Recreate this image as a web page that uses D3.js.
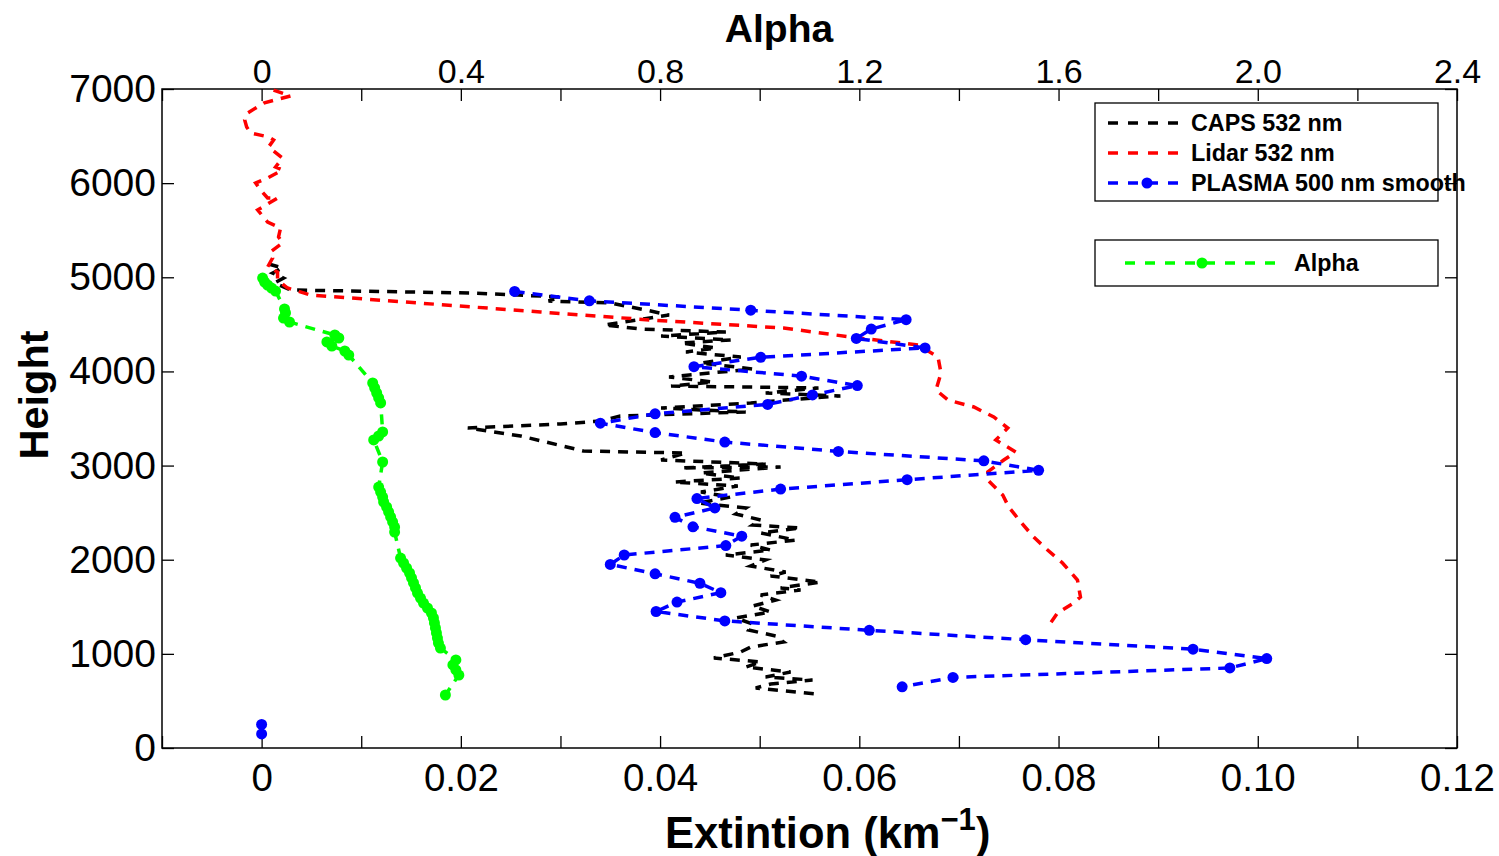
<!DOCTYPE html>
<html>
<head>
<meta charset="utf-8">
<script src="https://cdn.jsdelivr.net/npm/d3@7"></script>
<style>
  body { margin: 0; background: #fff; }
  text { font-family: "Liberation Sans", Arial, sans-serif; }
</style>
</head>
<body>
<div id="chart"></div>
<script>
// values (extinction in km^-1, height in m)
const capsHeight = [5141, 5099, 5045, 4992, 4939, 4865, 4833, 4791, 4748, 4727, 4652, 4599, 4493, 4451, 4419, 4376, 4334, 4302, 4249, 4206,
    4153, 4089, 4026, 3941, 3888, 3845, 3824, 3771, 3739, 3696, 3665, 3611, 3569, 3527, 3473, 3442, 3399, 3314, 3155, 3133,
    3059, 3017, 2974, 2985, 2921, 2868, 2825, 2783, 2719, 2666, 2602, 2549, 2486, 2422, 2369, 2337, 2284, 2209, 2156, 2103,
    2050, 1997, 1933, 1869, 1827, 1763, 1700, 1678, 1625, 1572, 1508, 1445, 1381, 1317, 1253, 1190, 1126, 1073, 1020, 956,
    914, 860, 807, 754, 722, 680, 637, 574];
const capsExt = [0.0007, 0.0021, 0.0011, 0.0022, 0.0013, 0.0029, 0.0210, 0.0300, 0.0288, 0.0350, 0.0386, 0.0409, 0.0344, 0.0380, 0.0466, 0.0401, 0.0471, 0.0421, 0.0456, 0.0426,
    0.0481, 0.0441, 0.0493, 0.0409, 0.0453, 0.0411, 0.0559, 0.0506, 0.0581, 0.0526, 0.0491, 0.0401, 0.0486, 0.0360, 0.0340, 0.0300, 0.0207, 0.0260, 0.0323, 0.0426,
    0.0401, 0.0506, 0.0421, 0.0521, 0.0441, 0.0481, 0.0414, 0.0478, 0.0441, 0.0471, 0.0438, 0.0486, 0.0476, 0.0501, 0.0493, 0.0541, 0.0501, 0.0536, 0.0491, 0.0511,
    0.0466, 0.0506, 0.0491, 0.0526, 0.0511, 0.0561, 0.0521, 0.0541, 0.0501, 0.0516, 0.0493, 0.0511, 0.0476, 0.0493, 0.0489, 0.0516, 0.0524, 0.0491, 0.0481, 0.0454,
    0.0501, 0.0486, 0.0531, 0.0506, 0.0553, 0.0511, 0.0496, 0.0556];

const lidarHeight = [6989, 6926, 6851, 6745, 6671, 6596, 6533, 6490, 6458, 6384, 6267, 6171, 6140, 6055, 6001, 5927, 5842, 5842, 5715, 5587,
    5523, 5428, 5364, 5269, 5205, 5109, 5056, 4971, 4886, 4812, 4631, 4546, 4461, 4366, 4281, 4153, 3983, 3803, 3696, 3622,
    3516, 3399, 3272, 3144, 3059, 2932, 2847, 2687, 2560, 2401, 2241, 2103, 1965, 1784, 1604, 1540, 1434, 1328, 1285];
const lidarExt = [0.0012, 0.0029, 0.0002, -0.0014, -0.0017, -0.0015, -0.0011, 0.0007, 0.0012, 0.0007, 0.0021, 0.0014, 0.0021, 0.0006, -0.0006, -0.0001, 0.0006, 0.0016, -0.0004, 0.0006,
    0.0019, 0.0017, 0.0021, 0.0009, 0.0011, 0.0006, 0.0016, 0.0016, 0.0026, 0.0049, 0.0280, 0.0391, 0.0524, 0.0591, 0.0659, 0.0679, 0.0682, 0.0677, 0.0689, 0.0715,
    0.0735, 0.0749, 0.0737, 0.0757, 0.0745, 0.0729, 0.0729, 0.0744, 0.0750, 0.0762, 0.0775, 0.0789, 0.0804, 0.0819, 0.0822, 0.0815, 0.0799, 0.0792, 0.0792];

const plasmaHeight = [4850, 4750, 4650, 4550, 4450, 4350, 4250, 4150, 4050, 3950, 3850, 3750, 3650, 3550, 3450, 3350, 3250, 3150, 3050, 2950,
    2850, 2750, 2650, 2550, 2450, 2350, 2250, 2150, 2050, 1950, 1850, 1750, 1650, 1550, 1450, 1350, 1250, 1150, 1050, 950,
    850, 750, 650, 550, 450, 350, 250, 150];
const plasmaExt = [0.0254, 0.0329, 0.0491, 0.0647, 0.0612, 0.0597, 0.0666, 0.0501, 0.0434, 0.0542, 0.0598, 0.0553, 0.0508, 0.0395, 0.0340, 0.0395, 0.0465, 0.0579, 0.0725, 0.0780,
    0.0648, 0.0521, 0.0437, 0.0455, 0.0415, 0.0433, 0.0482, 0.0466, 0.0364, 0.0350, 0.0395, 0.0440, 0.0461, 0.0417, 0.0396, 0.0465, 0.0610, 0.0767, 0.0935, 0.1009,
    0.0972, 0.0694, 0.0643, null, null, null, 0, 0];

const alphaHeight = [4992, 4950, 4918, 4886, 4854, 4663, 4621, 4567, 4525, 4387, 4355, 4313, 4270, 4217, 4174, 3877, 3824, 3771, 3718, 3665,
    3357, 3314, 3272, 3038, 2772, 2719, 2666, 2613, 2560, 2507, 2454, 2401, 2347, 2294, 2018, 1965, 1912, 1859, 1806, 1753,
    1700, 1646, 1593, 1540, 1487, 1434, 1381, 1328, 1275, 1222, 1168, 1115, 1062, 935, 882, 829, 775, 563];
const alphaVal = [0.002, 0.006, 0.012, 0.020, 0.028, 0.046, 0.048, 0.044, 0.056, 0.147, 0.155, 0.131, 0.141, 0.167, 0.175, 0.223, 0.227, 0.231, 0.235, 0.239,
    0.243, 0.235, 0.225, 0.243, 0.235, 0.239, 0.243, 0.245, 0.251, 0.255, 0.259, 0.263, 0.267, 0.267, 0.279, 0.285, 0.291, 0.297, 0.301, 0.305,
    0.309, 0.313, 0.319, 0.325, 0.333, 0.341, 0.345, 0.347, 0.349, 0.351, 0.353, 0.355, 0.359, 0.390, 0.384, 0.390, 0.396, 0.369];

const extTicks = [-0.01, 0, 0.01, 0.02, 0.03, 0.04, 0.05, 0.06, 0.07, 0.08, 0.09, 0.10, 0.11, 0.12];
const extTickLabels = ["", "0", "", "0.02", "", "0.04", "", "0.06", "", "0.08", "", "0.10", "", "0.12"];
const alphaTicks = [-0.2, 0, 0.2, 0.4, 0.6, 0.8, 1.0, 1.2, 1.4, 1.6, 1.8, 2.0, 2.2, 2.4];
const alphaTickLabels = ["", "0", "", "0.4", "", "0.8", "", "1.2", "", "1.6", "", "2.0", "", "2.4"];
const heightTicks = [0, 1000, 2000, 3000, 4000, 5000, 6000, 7000];

const legendNames = ["CAPS 532 nm", "Lidar 532 nm", "PLASMA 500 nm smooth"];
const legendColors = ["#000000", "#ff0000", "#0000ff"];

const width = 1499, height = 856;
const margin = {left: 162, right: 1457, top: 89, bottom: 748};

const svg = d3.select("#chart")
    .append("svg")
    .attr("width", width)
    .attr("height", height);

const x = d3.scaleLinear().domain([-0.01, 0.12]).range([margin.left, margin.right]);
const xa = d3.scaleLinear().domain([-0.2, 2.4]).range([margin.left, margin.right]);
const y = d3.scaleLinear().domain([0, 7000]).range([margin.bottom, margin.top]);

// axes, ticks pointing inward
const styleAxis = (g, size) => {
    g.select(".domain").remove();
    g.selectAll(".tick line").attr("stroke", "#000").attr("stroke-width", 1.3);
    g.selectAll(".tick text").attr("fill", "#000").style("font-size", size + "px");
};

svg.append("g")
    .attr("transform", "translate(0," + margin.bottom + ")")
    .call(d3.axisBottom(x).tickValues(extTicks).tickFormat((d, i) => extTickLabels[i])
        .tickSizeInner(-12).tickSizeOuter(0).tickPadding(16))
    .call(g => styleAxis(g, 38.5));

svg.append("g")
    .attr("transform", "translate(0," + margin.top + ")")
    .call(d3.axisTop(xa).tickValues(alphaTicks).tickFormat((d, i) => alphaTickLabels[i])
        .tickSizeInner(-12).tickSizeOuter(0).tickPadding(6))
    .call(g => styleAxis(g, 34));

svg.append("g")
    .attr("transform", "translate(" + margin.left + ",0)")
    .call(d3.axisLeft(y).tickValues(heightTicks).tickFormat(d3.format("d"))
        .tickSizeInner(-12).tickSizeOuter(0).tickPadding(6))
    .call(g => styleAxis(g, 39));

svg.append("g")
    .attr("transform", "translate(" + margin.right + ",0)")
    .call(d3.axisRight(y).tickValues(heightTicks).tickFormat("")
        .tickSizeInner(-12).tickSizeOuter(0))
    .call(g => styleAxis(g, 37));

svg.append("rect")
    .attr("x", margin.left)
    .attr("y", margin.top)
    .attr("width", margin.right - margin.left)
    .attr("height", margin.bottom - margin.top)
    .attr("fill", "none")
    .attr("stroke", "#000")
    .attr("stroke-width", 1.5);

// series
const dash = "10,8";
const lineExt = d3.line()
    .defined(d => d.e != null)
    .x(d => x(d.e))
    .y(d => y(d.h));

const caps = capsHeight.map((h, i) => ({h: h, e: capsExt[i]}));
const lidar = lidarHeight.map((h, i) => ({h: h, e: lidarExt[i]}));
const plasma = plasmaHeight.map((h, i) => ({h: h, e: plasmaExt[i]}));
const alpha = alphaHeight.map((h, i) => ({h: h, a: alphaVal[i]}));

const plot = svg.append("g");

plot.append("path")
    .datum(caps)
    .attr("d", lineExt)
    .attr("fill", "none")
    .attr("stroke", "#000")
    .attr("stroke-width", 3.5)
    .attr("stroke-dasharray", dash);

plot.append("path")
    .datum(lidar)
    .attr("d", lineExt)
    .attr("fill", "none")
    .attr("stroke", "#ff0000")
    .attr("stroke-width", 3.5)
    .attr("stroke-dasharray", dash);

plot.append("path")
    .datum(plasma)
    .attr("d", lineExt)
    .attr("fill", "none")
    .attr("stroke", "#0000ff")
    .attr("stroke-width", 3.5)
    .attr("stroke-dasharray", dash);

plot.selectAll("circle.plasma")
    .data(plasma.filter(d => d.e != null))
    .join("circle")
    .attr("class", "plasma")
    .attr("cx", d => x(d.e))
    .attr("cy", d => y(d.h))
    .attr("r", 5.5)
    .attr("fill", "#0000ff");

plot.append("path")
    .datum(alpha)
    .attr("d", d3.line().x(d => xa(d.a)).y(d => y(d.h)))
    .attr("fill", "none")
    .attr("stroke", "#00ff00")
    .attr("stroke-width", 3.5)
    .attr("stroke-dasharray", dash);

plot.selectAll("circle.alpha")
    .data(alpha)
    .join("circle")
    .attr("class", "alpha")
    .attr("cx", d => xa(d.a))
    .attr("cy", d => y(d.h))
    .attr("r", 5.5)
    .attr("fill", "#00ff00");

// legends
svg.append("rect")
    .attr("x", 1095).attr("y", 103)
    .attr("width", 343).attr("height", 98)
    .attr("fill", "#fff").attr("stroke", "#000").attr("stroke-width", 1.3);

const leg = svg.append("g");
legendNames.forEach(function(name, i) {
    const ly = 123 + i * 30;
    leg.append("line")
        .attr("x1", 1108).attr("x2", 1180)
        .attr("y1", ly).attr("y2", ly)
        .attr("stroke", legendColors[i])
        .attr("stroke-width", 3.5)
        .attr("stroke-dasharray", "10,10");
    if (i == 2) {
        leg.append("circle")
            .attr("cx", 1147).attr("cy", ly).attr("r", 5.5)
            .attr("fill", legendColors[i]);
    }
    leg.append("text")
        .attr("x", 1191).attr("y", ly + 8)
        .style("font-size", "23.3px")
        .style("font-weight", "bold")
        .text(name);
});

svg.append("rect")
    .attr("x", 1095).attr("y", 240)
    .attr("width", 343).attr("height", 46)
    .attr("fill", "#fff").attr("stroke", "#000").attr("stroke-width", 1.3);

svg.append("line")
    .attr("x1", 1125).attr("x2", 1277)
    .attr("y1", 263).attr("y2", 263)
    .attr("stroke", "#00ff00")
    .attr("stroke-width", 3.5)
    .attr("stroke-dasharray", "10,10");
svg.append("circle")
    .attr("cx", 1202).attr("cy", 263).attr("r", 5.5)
    .attr("fill", "#00ff00");
svg.append("text")
    .attr("x", 1294).attr("y", 271)
    .style("font-size", "23.3px")
    .style("font-weight", "bold")
    .text("Alpha");

// titles
svg.append("text")
    .attr("x", 779).attr("y", 42)
    .attr("text-anchor", "middle")
    .style("font-size", "39px")
    .style("font-weight", "bold")
    .text("Alpha");

svg.append("text")
    .attr("transform", "translate(48,395) rotate(-90)")
    .attr("text-anchor", "middle")
    .style("font-size", "41.5px")
    .style("font-weight", "bold")
    .text("Height");

const xl = svg.append("text")
    .attr("x", 665).attr("y", 848)
    .style("font-size", "43.5px")
    .style("font-weight", "bold");
xl.append("tspan").text("Extintion (km");
xl.append("tspan").attr("dy", -18).style("font-size", "31px").text("\u22121");
xl.append("tspan").attr("dy", 18).text(")");
</script>
</body>
</html>
